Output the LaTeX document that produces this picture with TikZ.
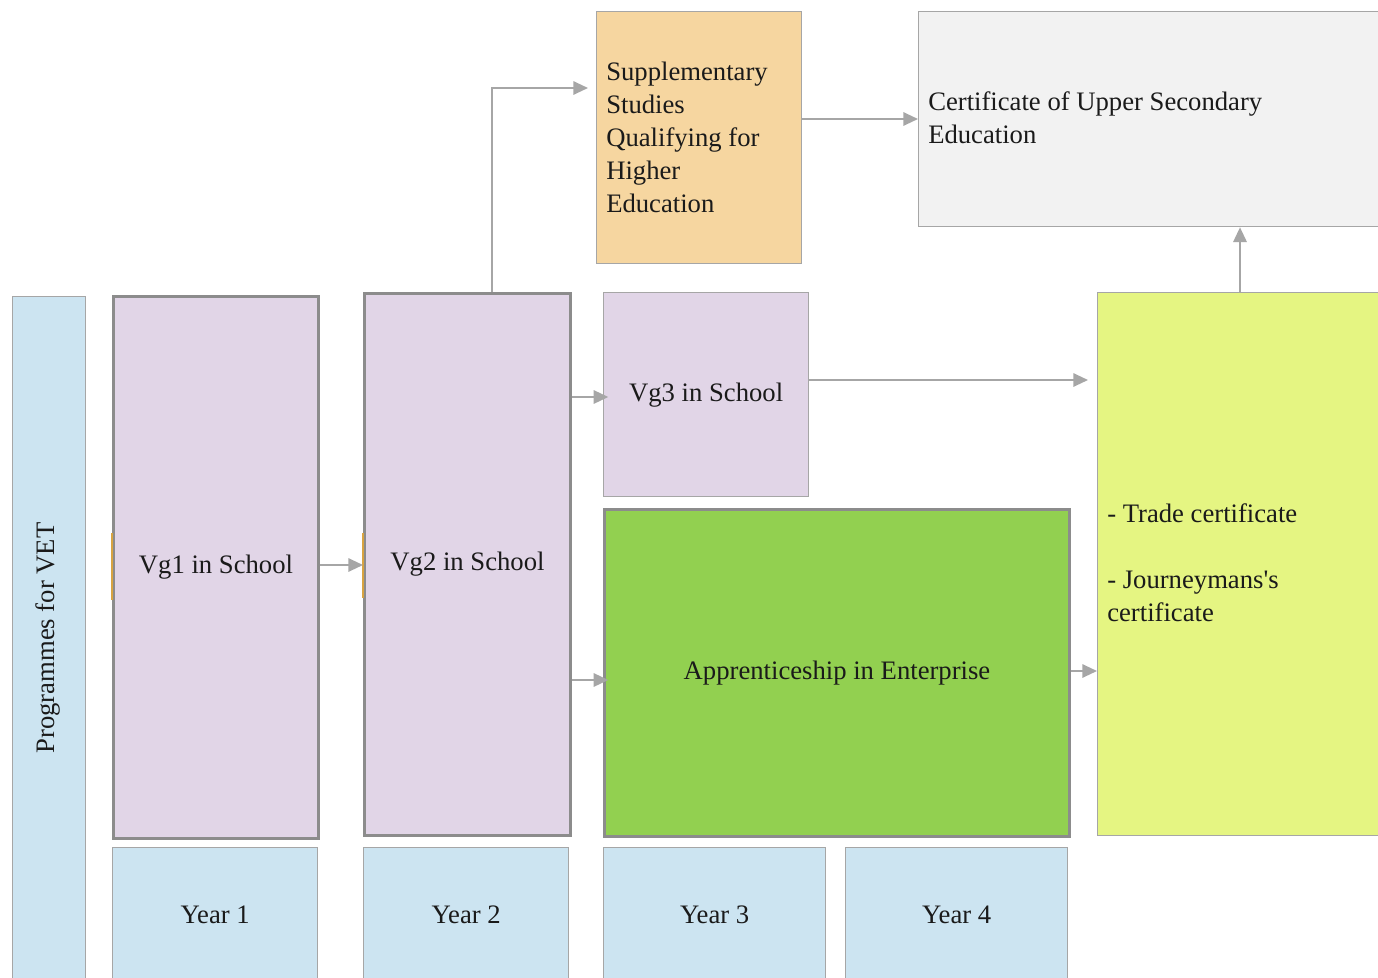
\documentclass[tikz,border=0pt]{standalone}
\usepackage{fontspec}
\setmainfont{Liberation Serif}
\newfontfamily\straightq{Liberation Serif}[Ligatures=TeXOff]
\usetikzlibrary{arrows.meta}
\definecolor{vgfill}{HTML}{E1D5E7}
\definecolor{vgline}{HTML}{8C8C8C}
\definecolor{yearfill}{HTML}{CCE4F1}
\definecolor{thinline}{HTML}{A6A6A6}
\definecolor{supfill}{HTML}{F6D6A0}
\definecolor{certfill}{HTML}{F2F2F2}
\definecolor{apprfill}{HTML}{92D050}
\definecolor{tradefill}{HTML}{E5F582}
\definecolor{arrgray}{HTML}{A6A6A6}
\definecolor{txt}{HTML}{1A1A1A}
\definecolor{orangemark}{HTML}{D9A441}
\begin{document}
\begin{tikzpicture}[x=0.75pt,y=-0.75pt,
  font=\fontsize{20}{24.75}\selectfont,
  dim/.style 2 args={minimum width={(#1)*0.75pt}, minimum height={(#2)*0.75pt}, anchor=north west, inner sep=0pt},
  thickbox/.style={draw=vgline, line width=2.25pt},
  thinbox/.style={draw=thinline, line width=1pt},
  vgbox/.style={thickbox, fill=vgfill, text=txt},
  yearbox/.style={thinbox, fill=yearfill, text=txt},
  lefttext/.style={anchor=west, align=left, inner sep=0pt, text=txt},
  arr/.style={draw=arrgray, line width=1.5pt, -{Triangle[length=11pt,width=10pt]}}
]
\clip (0,0) rectangle (1378,978);
\fill[white] (0,0) rectangle (1378,978);

% left label bar
\node[thinbox, fill=yearfill, dim={73}{690}] (prog) at (12,296) {};
\node[rotate=90, text=txt] (progtxt) at (48,638) {Programmes for VET};

% main boxes
\node[vgbox, dim={205}{542}] (vg1) at (112,295) {Vg1 in School};
\node[vgbox, dim={206}{542}] (vg2) at (363,292) {Vg2 in School};
\node[thinbox, fill=vgfill, text=txt, dim={205}{204}] (vg3) at (603,292) {Vg3 in School};
\node[thickbox, fill=apprfill, text=txt, dim={465}{327}] (appr) at (603,508) {Apprenticeship in Enterprise};
\node[thinbox, fill=tradefill, dim={300}{543}] (trade) at (1097,292) {};
\node[lefttext] (tradetxt) at (1107,563) {- Trade certificate\\[24.75pt]- Journeymans{\straightq'}s\\certificate};
\node[thinbox, fill=supfill, dim={205}{252}] (sup) at (596,11) {};
\node[lefttext] (suptxt) at (606,137) {Supplementary\\Studies\\Qualifying for\\Higher\\Education};
\node[thinbox, fill=certfill, dim={480}{215}] (cert) at (918,11) {};
\node[lefttext] (certtxt) at (928,118) {Certificate of Upper Secondary\\Education};

% small orange marks on left borders
\draw[orangemark, line width=1.5pt] (vg1.north west |- 0,533) -- (vg1.north west |- 0,600);
\draw[orangemark, line width=1.5pt] (vg2.north west |- 0,533) -- (vg2.north west |- 0,598);

% year boxes
\node[yearbox, dim={205}{134}] (y1) at (112,847) {Year 1};
\node[yearbox, dim={205}{134}] (y2) at (363,847) {Year 2};
\node[yearbox, dim={222}{134}] (y3) at (603,847) {Year 3};
\node[yearbox, dim={222}{134}] (y4) at (845,847) {Year 4};

% connectors
\draw[arr] (vg1.east |- 0,565) -- (vg2.west |- 0,565);
\draw[arr, shorten >=6pt] (vg2.north -| 492,0) |- (sup.west |- 0,88);
\draw[arr] (sup.east |- 0,119) -- (cert.west |- 0,119);
\draw[arr, shorten >=-4pt] (vg2.east |- 0,397) -- (vg3.west |- 0,397);
\draw[arr, shorten >=-4pt] (vg2.east |- 0,680) -- (appr.west |- 0,680);
\draw[arr, shorten >=6.75pt] (vg3.east |- 0,380) -- (trade.west |- 0,380);
\draw[arr] (appr.east |- 0,671) -- (trade.west |- 0,671);
\draw[arr] (trade.north -| 1240,0) -- (cert.south -| 1240,0);
\end{tikzpicture}
\end{document}
